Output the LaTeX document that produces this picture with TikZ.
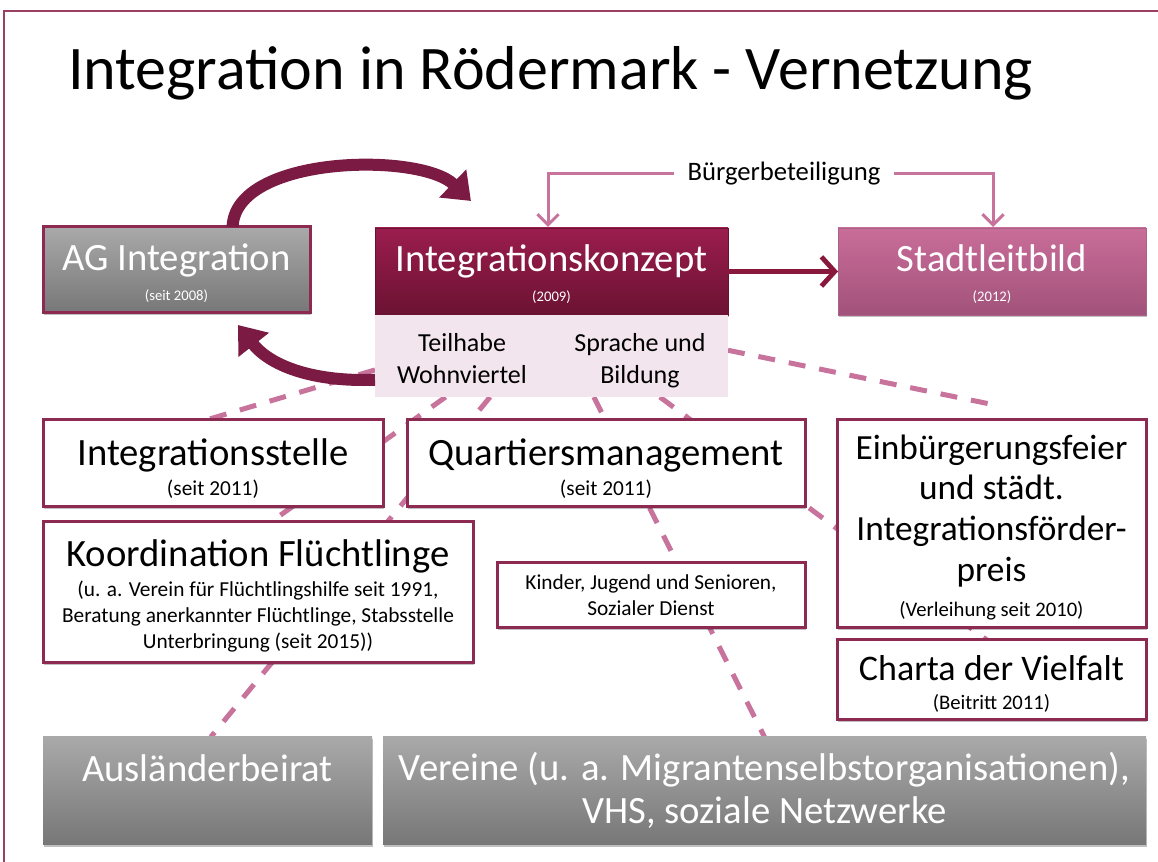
\documentclass[tikz,border=0pt]{standalone}
\usepackage{fontspec}
\setmainfont{Carlito}
\usetikzlibrary{arrows.meta,shadows,calc}
\definecolor{bord}{HTML}{8C2A52}
\definecolor{dashc}{HTML}{C8739C}
\definecolor{arrd}{HTML}{7B1B43}
\definecolor{framec}{HTML}{9B3F63}
\definecolor{ikTop}{HTML}{9B1D4E}
\definecolor{ikBot}{HTML}{6B1232}
\definecolor{slTop}{HTML}{C96D99}
\definecolor{slBot}{HTML}{A1527A}
\definecolor{gTop}{HTML}{A9A9A9}
\definecolor{gBot}{HTML}{777777}
\definecolor{pinkL}{HTML}{F3E5EE}
\pgfdeclarelayer{back}
\pgfdeclarelayer{bg}
\pgfsetlayers{back,bg,main}
\newcommand\fs[2]{\fontsize{#1}{#2}\selectfont}
% name, x1, y1, x2, y2, box style, font+colour, text dy (px), text
\newcommand\mybox[9]{%
  \node[#6, minimum width={(#4-#2)*0.75pt}, minimum height={(#5-#3)*0.75pt}] (#1) at ({(#2+#4)/2},{(#3+#5)/2}) {};
  \node[base, font=#7] (#1-t) at ({(#2+#4)/2},{(#3+#5)/2+#8}) {#9};}
\tikzset{
  base/.style={inner sep=0pt, outer sep=0pt, align=center},
  shad/.style={drop shadow={shadow xshift=0.6pt, shadow yshift=-1.6pt, opacity=0.25, fill=black}},
  wbox/.style={base, draw=bord, line width=2.25pt, fill=white, shad},
  agbox/.style={base, draw=bord, line width=2.25pt, top color=gTop, bottom color=gBot, shad},
  ikbox/.style={base, draw=ikBot, line width=0.6pt, top color=ikTop, bottom color=ikBot, shad},
  slbox/.style={base, draw=slBot!90!white, line width=0.6pt, top color=slTop, bottom color=slBot, shad},
  gbox/.style={base, top color=gTop, bottom color=gBot, shad},
  pkbox/.style={base, fill=pinkL},
  dline/.style={draw=dashc, line width=3.75pt, dash pattern=on 12.75pt off 10.5pt},
  bbline/.style={draw=dashc, line width=2.25pt, -{Straight Barb[length=8pt,width=16pt]}},
  curv/.style={draw=arrd, line width=9pt, -{Triangle[length=19pt,width=28pt]}},
}
\begin{document}
\begin{tikzpicture}[x=0.75pt,y=-0.75pt]
\useasboundingbox (0,0) rectangle (1158,862);
\begin{pgfonlayer}{back}
\fill[white] (0,0) rectangle (1158,862);
\end{pgfonlayer}
\draw[framec, line width=1.5pt] (4,862) -- (4,11) -- (1158,11);

\node[base, anchor=base west, font=\fs{46.5}{50}] (title) at (68,90) {Integration in Rödermark - Vernetzung};

% top row
\mybox{ag}{43}{227}{310}{313}{agbox}{\fs{29}{30}\color{white}}{3}{AG Integration\\[-7.5pt]\fs{11}{13}(seit 2008)}
\mybox{ik}{375}{228}{728}{315}{ikbox}{\fs{29}{30}\color{white}}{3}{Integrationskonzept\\[-7.5pt]\fs{11}{13}(2009)}
\mybox{pk}{375}{315}{728}{397}{pkbox}{\fs{19.5}{24}}{0}{}
\mybox{sl}{838}{228}{1146}{315}{slbox}{\fs{29}{30}\color{white}}{3}{Stadtleitbild\\[-7.5pt]\fs{11}{13}(2012)}
\node[base, font=\fs{19.5}{24}] (th) at (462,358.5) {Teilhabe\\Wohnviertel};
\node[base, font=\fs{19.5}{24}] (sb) at (640,361) {Sprache und\\Bildung};

% second row
\mybox{is}{43}{420}{383}{507}{wbox}{\fs{29}{30}}{5}{Integrationsstelle\\[-7pt]\fs{16}{18}(seit 2011)}
\mybox{qm}{407}{420}{805}{507}{wbox}{\fs{29}{30}}{5}{Quartiersmanagement\\[-7pt]\fs{16}{18}(seit 2011)}
\mybox{eb}{837}{420}{1146}{628}{wbox}{\fs{26.5}{30.5}}{3.5}{Einbürgerungsfeier\\und städt.\\Integrationsförder-\\preis\\[-4pt]\fs{15.5}{18}(Verleihung seit 2010)}
\mybox{kf}{43}{522}{473}{663}{wbox}{\fs{16}{19.5}}{3.5}{\fs{29}{30}Koordination Flüchtlinge\\[3pt](u. a. Verein für Flüchtlingshilfe seit 1991,\\Beratung anerkannter Flüchtlinge, Stabsstelle\\Unterbringung (seit 2015))}
\mybox{kj}{497}{563}{805}{628}{wbox}{\fs{16}{19.5}}{0}{Kinder, Jugend und Senioren,\\Sozialer Dienst}
\mybox{cv}{837}{640}{1146}{720}{wbox}{\fs{27}{30}}{4}{Charta der Vielfalt\\[-8pt]\fs{15.5}{18}(Beitritt 2011)}

% bottom row
\mybox{ab}{43}{737}{372}{845}{gbox}{\fs{29}{32.5}\color{white}}{-1}{Ausländerbeirat\\\phantom{VHS}}
\mybox{ve}{383}{737}{1146}{845}{gbox}{\fs{29}{32.5}\color{white}}{-1}{Vereine (u. a. Migrantenselbstorganisationen),\\VHS, soziale Netzwerke}

% dashed links (behind boxes)
\coordinate (l4end) at (990,404);
\begin{pgfonlayer}{bg}
\draw[dline] ($(pk.north west)!0.67!(pk.south west)$) -- ($(is.north west)!0.48!(is.north east)$);
\draw[dline] ($(pk.south west)!0.2!(pk.south east)$) -- ($(kf.north west)!0.53!(kf.north east)$);
\draw[dline] ($(pk.south west)!0.326!(pk.south east)$) -- ($(ab.north west)!0.51!(ab.north east)$);
\draw[dline] ($(pk.south west)!0.62!(pk.south east)$) -- ($(ve.north west)!0.50!(ve.north east)$);
\draw[dline] ($(pk.north east)!0.43!(pk.south east)$) -- (l4end);
\draw[dline] ($(pk.south west)!0.807!(pk.south east)$) -- ($(cv.north west)!0.485!(cv.north east)$);
\end{pgfonlayer}

% Bürgerbeteiligung
\node[base, inner xsep=10.5pt, font=\fs{20}{24}] (bb) at (784,174) {Bürgerbeteiligung};
\coordinate (ikin) at (548,227);
\coordinate (slin) at (993,227);
\draw[bbline] (bb.west) -| (ikin);
\draw[bbline] (bb.east) -| (slin);

% arrow IK -> SL
\draw[draw=arrd!90!red, line width=3.6pt, -{Straight Barb[length=10pt,width=22pt]}] (ik.east) -- (sl.west);

% curved arrows
\coordinate (ctip1) at (471,201);
\coordinate (ctip2) at (238,325);
\draw[curv] ($(ag.north west)!0.71!(ag.north east)$) .. controls (235,155) and (420,152) .. (ctip1);
\draw[curv] ($(pk.north west)!0.79!(pk.south west)$) .. controls (318,382) and (272,368) .. (ctip2);
\end{tikzpicture}
\end{document}
